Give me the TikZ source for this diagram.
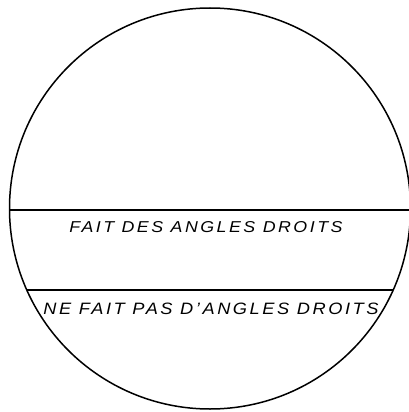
\documentclass[tikz,border=0pt]{standalone}
\usepackage{fontspec}
\newfontfamily\handfont[LetterSpace=14]{Liberation Sans}
\begin{document}
\begin{tikzpicture}[x=1pt,y=-1pt,
  outline/.style={draw=black,line width=1.5pt},
  label/.style={font=\handfont\itshape\fontsize{15}{15}\selectfont,inner sep=0pt}]
\useasboundingbox (0,0) rectangle (408,412);
\node[outline,circle,minimum size=401pt,inner sep=0pt] (c) at (210,208.5) {};
\coordinate (a1) at (9.5,210);
\coordinate (a2) at (410.5,210);
\coordinate (b1) at (26.8,290);
\coordinate (b2) at (393.2,290);
\draw[outline] (a1) -- (a2);
\draw[outline] (b1) -- (b2);
\node[label] (t1) at (206,227.5) {\resizebox{273pt}{11pt}{FAIT DES ANGLES DROITS}};
\node[label] (t2) at (211,309) {\resizebox{335pt}{11.5pt}{NE FAIT PAS D’ANGLES DROITS}};
\end{tikzpicture}
\end{document}
